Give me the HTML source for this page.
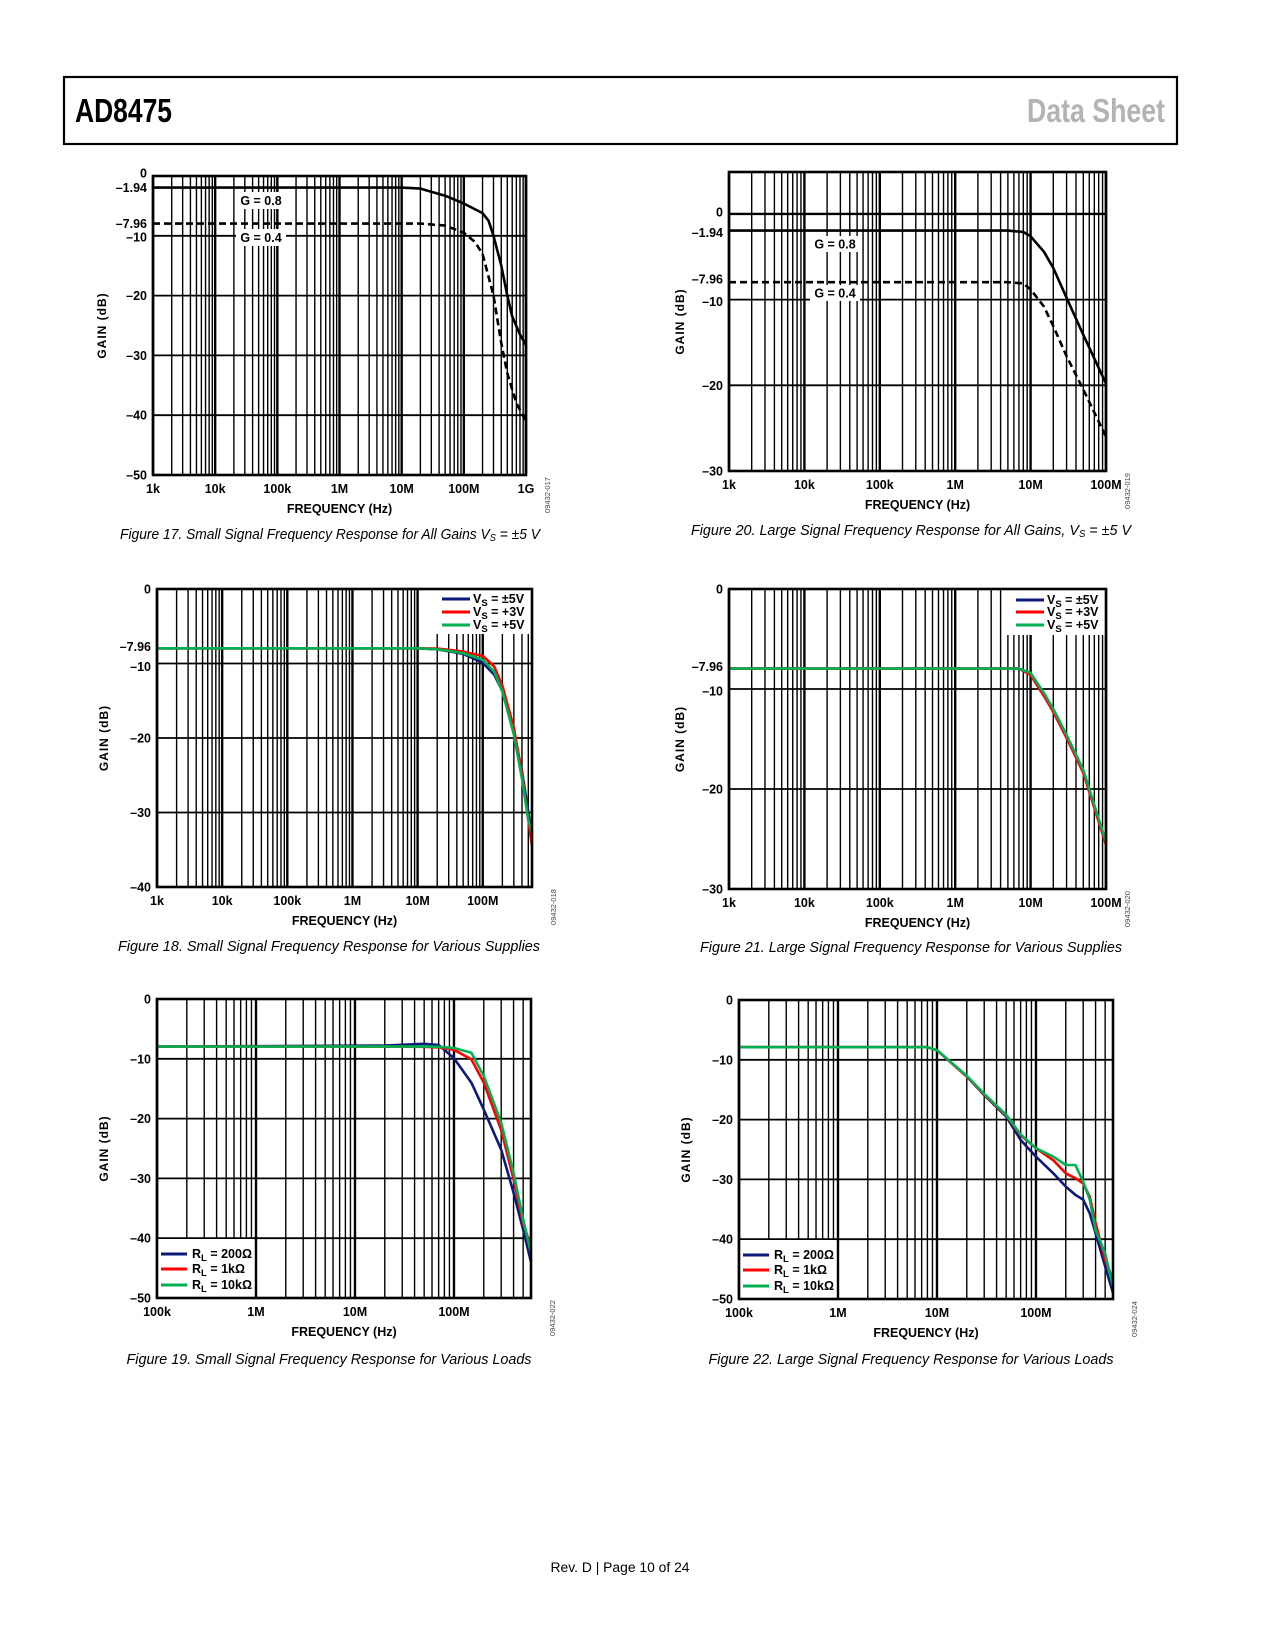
<!DOCTYPE html>
<html><head><meta charset="utf-8"><style>
html,body{margin:0;padding:0;background:#fff;}
svg{display:block;}
</style></head><body>
<svg id="page" width="1275" height="1650" viewBox="0 0 1275 1650" xmlns="http://www.w3.org/2000/svg" font-family="'Liberation Sans', Arial, sans-serif">
<rect x="0" y="0" width="1275" height="1650" fill="#fff"/>
<rect x="64" y="77" width="1113" height="67" fill="none" stroke="#000" stroke-width="2.2"/>
<text x="75" y="122" font-family="'Liberation Sans Narrow','Liberation Sans',sans-serif" font-weight="bold" font-size="33" textLength="97" lengthAdjust="spacingAndGlyphs">AD8475</text>
<text x="1165" y="122" text-anchor="end" fill="#b3b3b3" font-family="'Liberation Sans Narrow','Liberation Sans',sans-serif" font-weight="bold" font-size="33" textLength="138" lengthAdjust="spacingAndGlyphs">Data Sheet</text>
<text x="620" y="1572" text-anchor="middle" font-size="14" textLength="139" lengthAdjust="spacingAndGlyphs">Rev. D | Page 10 of 24</text>
<g id="charts"></g>
</svg>
<script>
// ---- Figure 17 data ----
const f17Freq = [1e3,1e7,2e7,5e7,1e8,2e8,2.5e8,3e8,4e8,5e8,6e8,8e8,1e9];
const f17G08 = [-1.94,-1.94,-2.1,-3.3,-4.6,-6.2,-7.5,-10,-15,-20,-23.5,-26.5,-28.3];
const f17DashFreq = [1e3,2e7,5e7,1e8,1.5e8,2e8,3e8,4e8,5e8,7e8,1e9];
const f17G04 = [-7.96,-7.96,-8.3,-9.5,-11,-13,-20,-28,-33,-38,-41];
const f17YTicks = [0,-1.94,-7.96,-10,-20,-30,-40,-50];
const f17YLabels = ['0','–1.94','–7.96','–10','–20','–30','–40','–50'];
const f17XLabels = ['1k','10k','100k','1M','10M','100M','1G'];
// ---- Figure 20 data ----
const f20Freq = [1e3,5e6,8e6,1e7,1.5e7,2e7,3e7,5e7,1e8];
const f20G08 = [-1.94,-1.94,-2.1,-2.6,-4.4,-6.3,-9.8,-14.1,-19.8];
const f20G04 = [-7.96,-7.96,-8.1,-8.8,-10.8,-13.1,-16.6,-20.5,-26];
const f20YTicks = [0,-1.94,-7.96,-10,-20,-30];
const f20YLabels = ['0','–1.94','–7.96','–10','–20','–30'];
const f20XLabels = ['1k','10k','100k','1M','10M','100M'];
// ---- Figure 18 data ----
const f18Freq = [1e3,1e7,2e7,5e7,1e8,1.5e8,2e8,3e8,4e8,5e8,5.7e8];
const f18Vs5 = [-7.96,-7.96,-8.1,-8.7,-9.9,-11.5,-13.7,-19.1,-24.5,-29.9,-33.5];
const f18Vp3 = [-7.96,-7.96,-8.0,-8.4,-9.0,-10.4,-13.0,-18.6,-24.8,-31,-34.5];
const f18Vp5 = [-7.96,-7.96,-8.1,-8.6,-9.5,-11.1,-13.8,-19.5,-25.5,-31,-32.7];
const f18YTicks = [0,-7.96,-10,-20,-30,-40];
const f18YLabels = ['0','–7.96','–10','–20','–30','–40'];
const f18XLabels = ['1k','10k','100k','1M','10M','100M'];
// ---- Figure 21 data ----
const f21Freq = [1e3,7e6,1e7,1.5e7,2e7,3e7,5e7,1e8];
const f21Vs5 = [-7.96,-7.96,-8.5,-10.5,-12.1,-14.7,-18.2,-25.5];
const f21Vp3 = [-7.96,-7.96,-8.6,-10.7,-12.3,-14.9,-18.4,-25.6];
const f21Vp5 = [-7.96,-7.96,-8.4,-10.4,-12.0,-14.6,-18.1,-25.3];
const f21YTicks = [0,-7.96,-10,-20,-30];
const f21YLabels = ['0','–7.96','–10','–20','–30'];
// ---- Figure 19 data ----
const f19Freq = [1e5,2e7,5e7,7e7,1e8,1.5e8,2e8,3e8,4e8,5e8,6e8];
const f19R200 = [-7.96,-7.8,-7.5,-7.7,-9.9,-14,-18.5,-25.2,-32.4,-38.6,-44];
const f19R1k = [-7.96,-7.96,-8.0,-8.1,-8.5,-10.1,-14,-21.9,-30.2,-37.5,-41.4];
const f19R10k = [-7.96,-7.96,-7.96,-8.0,-8.2,-9.0,-12.9,-20.7,-29.1,-36.9,-42.5];
const f19YTicks = [0,-10,-20,-30,-40,-50];
const f19YLabels = ['0','–10','–20','–30','–40','–50'];
const f19XLabels = ['100k','1M','10M','100M'];
// ---- Figure 22 data ----
const f22Freq = [1e5,8e6,1e7,2e7,3e7,5e7,7e7,1e8,1.5e8,2e8,2.5e8,3e8,3.5e8,4e8,5e8,6e8];
const f22R200 = [-7.9,-7.9,-8.4,-12.8,-15.9,-19.5,-23.4,-26.2,-29,-31.2,-32.6,-33.4,-35.7,-39,-44.6,-49];
const f22R1k = [-7.9,-7.9,-8.4,-12.8,-15.8,-19.3,-22.6,-24.8,-26.8,-29,-29.8,-30.7,-32.9,-37.3,-43.5,-46.8];
const f22R10k = [-7.9,-7.9,-8.4,-12.7,-15.7,-19.2,-22.5,-24.8,-26.2,-27.6,-27.6,-30.4,-33.4,-38.5,-42.4,-48];
const f22YTicks = [0,-10,-20,-30,-40,-50];
const f22YLabels = ['0','–10','–20','–30','–40','–50'];

const NS='http://www.w3.org/2000/svg';
const root=document.getElementById('charts');
function mk(tag,parent){const e=document.createElementNS(NS,tag);parent.appendChild(e);return e;}

function drawChart(c){
  const g=mk('g',root);
  
  
  const lx0=Math.log10(c.xmin), lx1=Math.log10(c.xmax);
  const X=f=>c.x0+(Math.log10(f)-lx0)/(lx1-lx0)*(c.x1-c.x0);
  const Y=v=>c.y0+(c.ymax-v)/(c.ymax-c.ymin)*(c.y1-c.y0);
  for(let d=Math.floor(lx0);d<=Math.ceil(lx1);d++){
    for(let k=1;k<=9;k++){
      const f=k*Math.pow(10,d);
      if(f<c.xmin||f>c.xmax)continue;
      const l=mk('line',g);
      
      
      const x=X(f);
      l.setAttribute('x1',x);l.setAttribute('x2',x);l.setAttribute('y1',c.y0);l.setAttribute('y2',c.y1);
      l.setAttribute('stroke','#000');l.setAttribute('stroke-width',k===1?2.4:1.4);
    }
  }
  for(let v=Math.ceil(c.ymin/10)*10;v<=c.ymax;v+=10){
    const l=mk('line',g);
    
    
    l.setAttribute('x1',c.x0);l.setAttribute('x2',c.x1);l.setAttribute('y1',Y(v));l.setAttribute('y2',Y(v));
    l.setAttribute('stroke','#000');l.setAttribute('stroke-width',v===0&&c.ymax>0?2.4:1.8);
  }
  (c.boxes||[]).forEach(b=>{
    const r=mk('rect',g);
    
    
    r.setAttribute('x',b.x);r.setAttribute('y',b.y);r.setAttribute('width',b.w);r.setAttribute('height',b.h);r.setAttribute('fill','#fff');
    if(b.text){
      const t=mk('text',g);
      
      
      t.setAttribute('x',b.x+b.w/2);t.setAttribute('y',b.y+b.h/2+4.5);t.setAttribute('text-anchor','middle');
      t.setAttribute('font-size','12.5');t.setAttribute('font-weight','bold');t.textContent=b.text;
    }
  });
  c.series.forEach(s=>{
    const p=mk('polyline',g);
    
    
    p.setAttribute('points',s.freq.map((f,i)=>X(f).toFixed(1)+','+Y(s.vals[i]).toFixed(1)).join(' '));
    p.setAttribute('fill','none');p.setAttribute('stroke',s.color);p.setAttribute('stroke-width',s.w||2.6);
    p.setAttribute('stroke-linejoin','round');
    if(s.dash)p.setAttribute('stroke-dasharray',s.dash);
  });
  if(c.legend){
    const L=c.legend;
    const r=mk('rect',g);
    
    
    r.setAttribute('x',L.x);r.setAttribute('y',L.y);r.setAttribute('width',L.w);r.setAttribute('height',L.h);r.setAttribute('fill','#fff');
    L.items.forEach((it,i)=>{
      const yy=L.rows[i];
      const ln=mk('line',g);
      
      
      ln.setAttribute('x1',L.lx0);ln.setAttribute('x2',L.lx1);ln.setAttribute('y1',yy);ln.setAttribute('y2',yy);
      ln.setAttribute('stroke',it.color);ln.setAttribute('stroke-width',3);
      const t=mk('text',g);
      
      
      t.setAttribute('x',L.tx);t.setAttribute('y',yy+4);t.setAttribute('font-size','12.5');t.setAttribute('font-weight','bold');
      const a=mk('tspan',t);a.textContent=it.main;
      const b=mk('tspan',t);b.setAttribute('font-size','9.5');b.setAttribute('dy','3');b.textContent=it.sub;
      const d=mk('tspan',t);d.setAttribute('dy','-3');d.textContent=it.rest;
    });
  }
  const fr=mk('rect',g);
  
  
  fr.setAttribute('x',c.x0);fr.setAttribute('y',c.y0);fr.setAttribute('width',c.x1-c.x0);fr.setAttribute('height',c.y1-c.y0);
  fr.setAttribute('fill','none');fr.setAttribute('stroke','#000');fr.setAttribute('stroke-width',2.6);
  c.yticks.forEach((v,i)=>{
    const t=mk('text',g);
    
    
    let dy=4.5;
    if(c.nudge&&c.nudge[i])dy+=c.nudge[i];
    t.setAttribute('x',c.x0-6);t.setAttribute('y',Y(v)+dy);t.setAttribute('text-anchor','end');
    t.setAttribute('font-size','12.5');t.setAttribute('font-weight','bold');t.textContent=c.ylabels[i];
  });
  c.xlabels.forEach((s,i)=>{
    const t=mk('text',g);
    
    
    t.setAttribute('x',X(c.xmin*Math.pow(10,i)));t.setAttribute('y',c.y1+18);t.setAttribute('text-anchor','middle');
    t.setAttribute('font-size','12.5');t.setAttribute('font-weight','bold');t.textContent=s;
  });
  const xt=mk('text',g);
  
  
  xt.setAttribute('x',(c.x0+c.x1)/2);xt.setAttribute('y',c.y1+38);xt.setAttribute('text-anchor','middle');
  xt.setAttribute('font-size','12.5');xt.setAttribute('font-weight','bold');xt.textContent='FREQUENCY (Hz)';
  const yt=mk('text',g);
  
  
  const cy=(c.y0+c.y1)/2;
  yt.setAttribute('x',c.ytx);yt.setAttribute('y',cy);yt.setAttribute('text-anchor','middle');
  yt.setAttribute('transform','rotate(-90 '+c.ytx+' '+cy+')');
  yt.setAttribute('font-size','12');yt.setAttribute('font-weight','bold');yt.setAttribute('letter-spacing','1');yt.textContent='GAIN (dB)';
  const code=mk('text',g);
  
  
  const cx=c.x1+24, ccy=c.y1+20;
  code.setAttribute('x',cx);code.setAttribute('y',ccy);code.setAttribute('text-anchor','middle');
  code.setAttribute('transform','rotate(-90 '+cx+' '+ccy+')');
  code.setAttribute('font-size','7.5');code.setAttribute('fill','#444');code.textContent=c.code;
  const cap=mk('text',g);
  
  
  cap.setAttribute('x',c.capx);cap.setAttribute('y',c.capy);cap.setAttribute('text-anchor','middle');
  cap.setAttribute('font-size','15');cap.setAttribute('font-style','italic');
  cap.setAttribute('textLength',c.capw);cap.setAttribute('lengthAdjust','spacingAndGlyphs');
  c.caption.forEach(part=>{const sp=mk('tspan',cap);if(part.sub){sp.setAttribute('font-size','10');sp.setAttribute('dy','2');}else if(part.after){sp.setAttribute('dy','-2');}sp.textContent=part.t;});
}

const vsItems=[{color:'#0b1a7a',main:'V',sub:'S',rest:' = ±5V'},{color:'#ff0000',main:'V',sub:'S',rest:' = +3V'},{color:'#00b050',main:'V',sub:'S',rest:' = +5V'}];
const rlItems=[{color:'#0b1a7a',main:'R',sub:'L',rest:' = 200Ω'},{color:'#ff0000',main:'R',sub:'L',rest:' = 1kΩ'},{color:'#00b050',main:'R',sub:'L',rest:' = 10kΩ'}];

drawChart({name:'figure-17-chart',x0:153,x1:526,y0:176,y1:475,xmin:1e3,xmax:1e9,ymin:-50,ymax:0,
  yticks:f17YTicks,ylabels:f17YLabels,xlabels:f17XLabels,ytx:106,code:'09432-017',nudge:[-3,0,0,1],
  boxes:[{name:'label-g08',x:236,y:192,w:50,h:17,text:'G = 0.8'},{name:'label-g04',x:236,y:229,w:50,h:17,text:'G = 0.4'}],
  series:[{name:'series-g08',freq:f17Freq,vals:f17G08,color:'#000'},{name:'series-g04',freq:f17DashFreq,vals:f17G04,color:'#000',dash:'7,4'}],
  caption:[{t:'Figure 17. Small Signal Frequency Response for All Gains V'},{t:'S',sub:1},{t:' = ±5 V',after:1}],capx:330,capy:539,capw:420});

drawChart({name:'figure-20-chart',x0:729,x1:1106,y0:172,y1:471,xmin:1e3,xmax:1e8,ymin:-30,ymax:4.9,
  yticks:f20YTicks,ylabels:f20YLabels,xlabels:f20XLabels,ytx:684,code:'09432-019',nudge:[-2,2,-3,2],
  boxes:[{name:'label-g08',x:810,y:236,w:50,h:16,text:'G = 0.8'},{name:'label-g04',x:810,y:285,w:50,h:16,text:'G = 0.4'}],
  series:[{name:'series-g08',freq:f20Freq,vals:f20G08,color:'#000'},{name:'series-g04',freq:f20Freq,vals:f20G04,color:'#000',dash:'7,4'}],
  caption:[{t:'Figure 20. Large Signal Frequency Response for All Gains, V'},{t:'S',sub:1},{t:' = ±5 V',after:1}],capx:911,capy:535,capw:440});

drawChart({name:'figure-18-chart',x0:157,x1:532,y0:589,y1:887,xmin:1e3,xmax:5.7e8,ymin:-40,ymax:0,
  yticks:f18YTicks,ylabels:f18YLabels,xlabels:f18XLabels,ytx:108,code:'09432-018',nudge:[0,-2,3],
  legend:{x:436,y:589,w:96,h:45,rows:[599,612,625],lx0:442,lx1:470,tx:473,items:vsItems},
  series:[{name:'series-vs-pm5v',freq:f18Freq,vals:f18Vs5,color:'#0b1a7a'},{name:'series-vs-p3v',freq:f18Freq,vals:f18Vp3,color:'#ff0000'},{name:'series-vs-p5v',freq:f18Freq,vals:f18Vp5,color:'#00b050'}],
  caption:[{t:'Figure 18. Small Signal Frequency Response for Various Supplies'}],capx:329,capy:951,capw:422});

drawChart({name:'figure-21-chart',x0:729,x1:1106,y0:589,y1:889,xmin:1e3,xmax:1e8,ymin:-30,ymax:0,
  yticks:f21YTicks,ylabels:f21YLabels,xlabels:f20XLabels,ytx:684,code:'09432-020',nudge:[0,-2,2],
  legend:{x:1007,y:589,w:99,h:46,rows:[600,612,625],lx0:1016,lx1:1044,tx:1047,items:vsItems},
  series:[{name:'series-vs-pm5v',freq:f21Freq,vals:f21Vs5,color:'#0b1a7a'},{name:'series-vs-p3v',freq:f21Freq,vals:f21Vp3,color:'#ff0000'},{name:'series-vs-p5v',freq:f21Freq,vals:f21Vp5,color:'#00b050'}],
  caption:[{t:'Figure 21. Large Signal Frequency Response for Various Supplies'}],capx:911,capy:952,capw:422});

drawChart({name:'figure-19-chart',x0:157,x1:531,y0:999,y1:1298,xmin:1e5,xmax:6e8,ymin:-50,ymax:0,
  yticks:f19YTicks,ylabels:f19YLabels,xlabels:f19XLabels,ytx:108,code:'09432-022',
  legend:{x:157,y:1239,w:96,h:59,rows:[1254,1269,1285],lx0:161,lx1:187,tx:192,items:rlItems},
  series:[{name:'series-rl-200',freq:f19Freq,vals:f19R200,color:'#0b1a7a'},{name:'series-rl-1k',freq:f19Freq,vals:f19R1k,color:'#ff0000'},{name:'series-rl-10k',freq:f19Freq,vals:f19R10k,color:'#00b050'}],
  caption:[{t:'Figure 19. Small Signal Frequency Response for Various Loads'}],capx:329,capy:1364,capw:405});

drawChart({name:'figure-22-chart',x0:739,x1:1113,y0:1000,y1:1299,xmin:1e5,xmax:6e8,ymin:-50,ymax:0,
  yticks:f22YTicks,ylabels:f22YLabels,xlabels:f19XLabels,ytx:690,code:'09432-024',
  legend:{x:739,y:1240,w:97,h:59,rows:[1255,1270,1286],lx0:743,lx1:769,tx:774,items:rlItems},
  series:[{name:'series-rl-200',freq:f22Freq,vals:f22R200,color:'#0b1a7a'},{name:'series-rl-1k',freq:f22Freq,vals:f22R1k,color:'#ff0000'},{name:'series-rl-10k',freq:f22Freq,vals:f22R10k,color:'#00b050'}],
  caption:[{t:'Figure 22. Large Signal Frequency Response for Various Loads'}],capx:911,capy:1364,capw:405});
</script>
</body></html>
